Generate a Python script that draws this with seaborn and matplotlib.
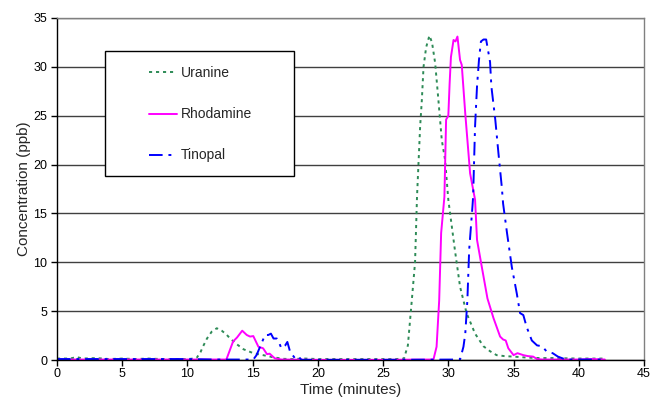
import numpy as np
import pandas as pd
import matplotlib
matplotlib.use('Agg')
import matplotlib.pyplot as plt
from matplotlib.patches import Rectangle
import seaborn as sns

# Tracer breakthrough curves
uranine_t = [0, 1, 1.5, 2, 3, 4, 5, 6, 7, 8, 9, 10, 10.5, 10.7, 11.0, 11.2, 11.5, 11.86, 12.25,
             12.63, 13.0, 13.27, 13.8, 14.3, 15.05, 15.8, 16.6, 17.4, 18, 19, 20, 22, 24, 26,
             26.6, 26.9, 27.2, 27.45, 27.6, 27.84, 27.97, 28.1, 28.3, 28.55, 28.75, 28.99, 29.24,
             29.5, 29.75, 30.0, 30.5, 30.9, 31.4, 32.05, 32.7, 33.2, 33.7, 34.3, 35, 36, 37, 38, 40, 42]
uranine_c = [0.15, 0.15, 0.3, 0.15, 0.2, 0.1, 0.15, 0.1, 0.15, 0.1, 0.1, 0.1, 0.15, 0.2, 0.8, 1.4,
             2.2, 2.9, 3.25, 3.0, 2.6, 2.2, 1.6, 1.1, 0.7, 0.5, 0.27, 0.12, 0.1, 0.15, 0.1, 0.1, 0.1,
             0.1, 0.15, 1.5, 6.1, 10, 16.7, 23.9, 26.6, 30, 32, 33.2, 32.5, 30.4, 26.6, 22.5, 20.5,
             16.4, 11.3, 7.5, 4.8, 2.7, 1.4, 0.9, 0.5, 0.4, 0.35, 0.25, 0.2, 0.2, 0.15, 0.15]

rhodamine_t = [0, 5, 10, 12.9, 13.0, 13.5, 13.8, 14.2, 14.55, 14.8, 15.05, 15.44, 15.8, 16.1, 16.3,
               16.7, 17.2, 20, 25, 28.86, 29.1, 29.3, 29.45, 29.7, 29.83, 30.0, 30.1, 30.2, 30.4,
               30.55, 30.7, 30.9, 31.03, 31.3, 31.67, 32.05, 32.2, 32.57, 33.0, 33.46, 33.97, 34.2,
               34.4, 34.6, 35.0, 35.3, 35.75, 36.1, 36.5, 36.8, 37.2, 38, 40, 41, 42]
rhodamine_c = [0.05, 0.05, 0.05, 0.05, 0.1, 1.9, 2.3, 3.0, 2.56, 2.4, 2.45, 1.36, 1.2, 0.6, 0.65,
               0.17, 0.05, 0.02, 0.02, 0.05, 1.36, 6.1, 13, 16.7, 24.6, 25, 28.3, 31, 32.75, 32.6,
               33.1, 30.7, 30.2, 25.2, 19.1, 16.4, 12.3, 9.5, 6.3, 4.3, 2.4, 2.1, 2.0, 1.2, 0.5, 0.7,
               0.5, 0.4, 0.35, 0.1, 0.05, 0.05, 0.05, 0.1, 0.05]

tinopal_t = [0, 5, 10, 12, 15.05, 15.3, 15.57, 15.95, 16.2, 16.4, 16.6, 16.85, 17.05, 17.2, 17.5,
             17.66, 17.87, 18.25, 18.5, 18.75, 20, 25, 30.9, 31.16, 31.3, 31.46, 31.6, 31.85, 31.9,
             32.05, 32.2, 32.35, 32.5, 32.7, 32.9, 33.2, 33.3, 33.6, 33.84, 34.1, 34.2, 34.5, 34.87,
             35.25, 35.5, 35.75, 36.0, 36.4, 36.8, 37.2, 37.55, 38.0, 38.4, 39, 40, 42]
tinopal_c = [0.1, 0.1, 0.1, 0.05, 0.05, 0.5, 1.36, 2.56, 2.56, 2.7, 2.2, 2.2, 1.7, 1.2, 1.5, 1.85,
             0.85, 0.17, 0.35, 0.02, 0.02, 0.02, 0.05, 1.36, 2.7, 6.1, 11.3, 15.7, 16.7, 23.9, 28,
             30.7, 32.6, 32.8, 32.8, 30.5, 28, 24.6, 21.2, 17.7, 16, 13, 9.5, 6.8, 4.8, 4.6, 3.4,
             2.0, 1.5, 1.4, 0.85, 0.7, 0.35, 0.05, 0.05, 0.05]

sns.set_style('white')
plt.rcParams['font.family'] = ['Liberation Sans', 'DejaVu Sans']

fig = plt.figure(figsize=(6.58, 3.99), dpi=100)
ax = fig.add_axes([0.0866, 0.0977, 0.8921, 0.8572])

sns.lineplot(x=uranine_t, y=uranine_c, ax=ax, color='#2E8B57', linewidth=1.4,
             linestyle=(0, (1.6, 2.0)), label='Uranine', sort=False)
sns.lineplot(x=rhodamine_t, y=rhodamine_c, ax=ax, color='#FF00FF', linewidth=1.4,
             label='Rhodamine', sort=False)
sns.lineplot(x=tinopal_t, y=tinopal_c, ax=ax, color='#0000FF', linewidth=1.4,
             linestyle=(0, (7, 3, 1.5, 3)), label='Tinopal', sort=False)

ax.set_xlim(0, 45)
ax.set_ylim(0, 35)
ax.set_xticks(np.arange(0, 46, 5))
ax.set_yticks(np.arange(0, 36, 5))
ax.yaxis.grid(True, color='#404040', linewidth=1.0)
ax.set_axisbelow(True)
ax.tick_params(axis='both', labelsize=9, length=4, width=1, direction='out',
               colors='black', bottom=True, left=True)
ax.tick_params(axis='x', pad=1.5)
ax.tick_params(axis='y', pad=3)

for side in ['left', 'bottom']:
    ax.spines[side].set_color('black')
    ax.spines[side].set_linewidth(1.0)
for side in ['top', 'right']:
    ax.spines[side].set_color('#808080')
    ax.spines[side].set_linewidth(1.0)

ax.set_xlabel('Time (minutes)', fontsize=11)
ax.xaxis.set_label_coords(0.5, -0.068)
ax.set_ylabel('Concentration (ppb)', fontsize=11)
ax.yaxis.set_label_coords(-0.045, 0.5)

# legend box like Excel: wide white frame with the entries in the middle
box = Rectangle((0.082, 0.538), 0.322, 0.366, transform=ax.transAxes,
                facecolor='white', edgecolor='black', linewidth=1.0, zorder=3)
ax.add_patch(box)
leg = ax.legend(loc='upper left', bbox_to_anchor=(0.147, 0.875), frameon=False,
                fontsize=10, labelspacing=1.95, handlelength=2.0, handletextpad=0.3,
                borderaxespad=0)
leg.set_zorder(4)

fig.savefig('out.png', dpi=100)
